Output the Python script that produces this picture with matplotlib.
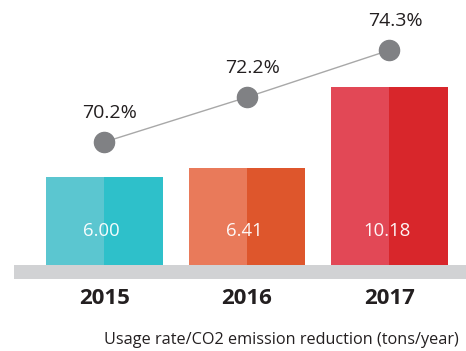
import matplotlib
matplotlib.use('Agg')
import matplotlib.pyplot as plt
import matplotlib.transforms as mtransforms
from matplotlib.patches import Rectangle
import numpy as np

plt.rcParams['font.family'] = ['Open Sans', 'DejaVu Sans']

years = ['2015', '2016', '2017']
reduction = [6.00, 6.41, 10.18]
usage_rate = [70.2, 72.2, 74.3]

light_colors = ['#5bc6d0', '#e97a5a', '#e24856']
dark_colors = ['#2ec0ca', '#de562c', '#d8262b']

W, H = 466, 351
fig = plt.figure(figsize=(W / 100, H / 100), dpi=100)

# bars sit on a grey base band; the axes starts at the band's top edge
base_top, base_bot = 265, 279
ax = fig.add_axes([0, (H - base_top) / H, 1, base_top / H])
ax.set_xlim(-0.733, 2.537)
ax.set_ylim(1.907, 14.23)
ax.axis('off')

x = np.arange(len(years))
bw = 0.82
ax.bar(x - bw / 4, reduction, bw / 2, color=light_colors, linewidth=0)
ax.bar(x + bw / 4, reduction, bw / 2, color=dark_colors, linewidth=0)

for xi, v in zip(x, reduction):
    ax.text(xi - 0.02, 0.128, f'{v:.2f}', transform=ax.get_xaxis_transform(),
            ha='center', va='center', color='white', fontsize=13.3, alpha=0.95)

# grey base band
fig.add_artist(Rectangle((14 / W, (H - base_bot) / H), 1 - 14 / W, (base_bot - base_top) / H,
                         transform=fig.transFigure, color='#d1d2d4', linewidth=0))

# year labels under the band
trans = mtransforms.blended_transform_factory(ax.transData, fig.transFigure)
for xi, y in zip(x, years):
    ax.text(xi, (H - 298) / H, y, transform=trans, ha='center', va='center',
            fontsize=16, fontweight='bold', color='#231f20')

# usage rate line on its own scale
ax2 = ax.twinx()
ax2.set_ylim(64.71, 76.54)
ax2.axis('off')
ax2.plot(x, usage_rate, color='#a8a8a8', linewidth=1, zorder=2)
ax2.plot(x, usage_rate, 'o', color='#808184', markersize=14.5, zorder=3)
for xi, p in zip(x, usage_rate):
    ax2.annotate(f'{p:.1f}%', (xi, p), xytext=(4, 21), textcoords='offset points',
                 ha='center', va='center', fontsize=14, color='#231f20')

fig.text(104 / W, (H - 340) / H, 'Usage rate/CO2 emission reduction (tons/year)',
         ha='left', va='center', fontsize=11.7, color='#231f20')

fig.savefig('out.png', dpi=100)
